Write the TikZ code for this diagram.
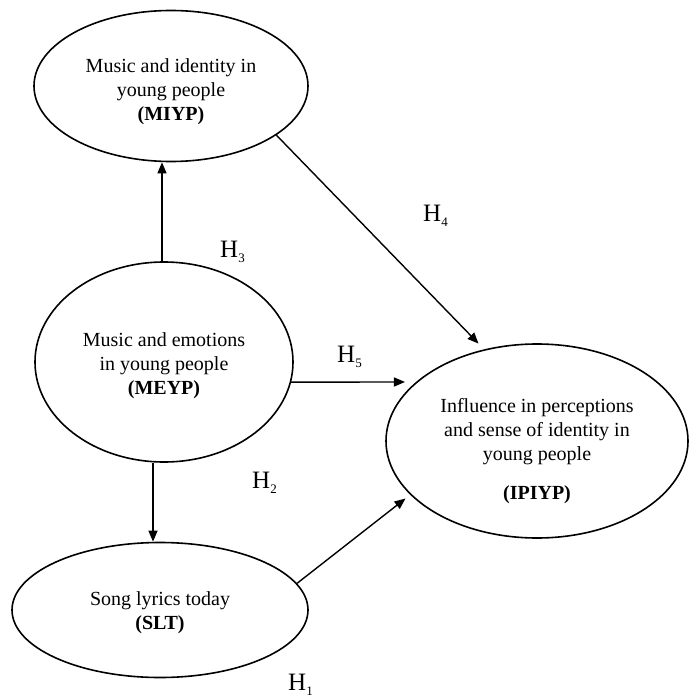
\documentclass[tikz,border=0pt]{standalone}
\usepackage{fontspec}
\setmainfont{Liberation Serif}
\usetikzlibrary{shapes.geometric,arrows.meta}
\begin{document}
\begin{tikzpicture}[x=1pt,y=-1pt,
  ell/.style={draw,ellipse,line width=1.6pt,inner sep=0pt},
  txt/.style={align=center,inner sep=0pt,font=\fontsize{20}{24}\selectfont},
  arr/.style={line width=1.4pt,-{Triangle[length=11pt,width=9pt]}},
  hyp/.style={anchor=base west,inner sep=0pt,font=\fontsize{25}{25}\selectfont}]
\newcommand{\hsub}[1]{H\raisebox{-5pt}{\fontsize{13}{13}\selectfont #1}}
\useasboundingbox (0,0) rectangle (690,698);
\node[ell,minimum width=274pt,minimum height=151pt] (miyp) at (171,86) {};
\node[ell,minimum width=258pt,minimum height=200pt] (meyp) at (164,362) {};
\node[ell,minimum width=296pt,minimum height=135pt] (slt) at (160,610) {};
\node[ell,minimum width=302pt,minimum height=194pt] (ipiyp) at (537,441) {};
\node[txt] (miyptxt) at (171,92) {Music and identity in\\young people\\\textbf{(MIYP)}};
\node[txt] (meyptxt) at (164,366) {Music and emotions\\in young people\\\textbf{(MEYP)}};
\node[txt] (slttxt) at (160,613) {Song lyrics today\\\textbf{(SLT)}};
\node[txt] (ipiyptxt) at (537,451) {Influence in perceptions\\and sense of identity in\\young people\\[15pt]\textbf{(IPIYP)}};
\draw[arr] ([xshift=-2pt]meyp.north) -- ([xshift=-2pt]meyp.north |- miyp.south);
\draw[arr] ([xshift=-11pt]meyp.south) -- ([xshift=-11pt]meyp.south |- slt.north);
\draw[arr,shorten >=11pt] (meyp.-9.5) -- (ipiyp.154.4);
\draw[arr,shorten >=6pt] (slt.11.1) -- (ipiyp.203.4);
\draw[arr,shorten >=8pt] (miyp.-25.7) -- (ipiyp.120.2);
\node[hyp] (h3) at (220,257) {\hsub{3}};
\node[hyp] (h4) at (423,221) {\hsub{4}};
\node[hyp] (h5) at (337,362) {\hsub{5}};
\node[hyp] (h2) at (252,488) {\hsub{2}};
\node[hyp] (h1) at (288,690) {\hsub{1}};
\end{tikzpicture}
\end{document}
